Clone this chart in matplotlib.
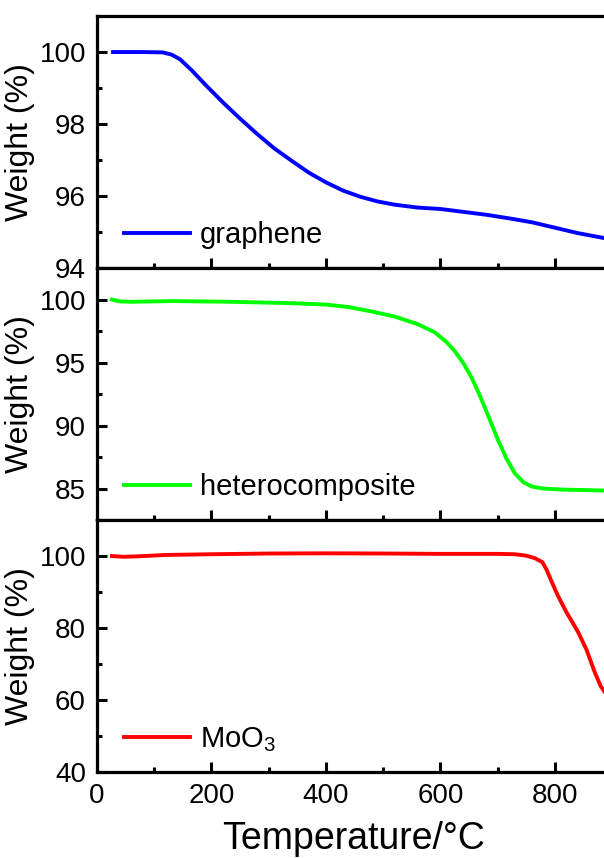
import matplotlib
matplotlib.use('Agg')
import matplotlib.pyplot as plt
from matplotlib.ticker import MultipleLocator

plt.rcParams['font.family'] = ['Liberation Sans', 'DejaVu Sans']
plt.rcParams['mathtext.default'] = 'regular'

# TGA curves (temperature in degC, weight in %)
graphene_t = [28, 80, 115, 130, 145, 165, 190, 220, 250, 280, 310, 340, 370, 400,
              430, 460, 490, 520, 560, 600, 640, 680, 720, 760, 800, 840, 890]
graphene_w = [100.0, 100.0, 99.99, 99.93, 99.8, 99.5, 99.08, 98.6, 98.15, 97.72,
              97.32, 96.98, 96.65, 96.38, 96.15, 95.98, 95.85, 95.76, 95.68, 95.64,
              95.56, 95.48, 95.38, 95.27, 95.12, 94.97, 94.82]

hetero_t = [26, 40, 60, 133, 234, 335, 400, 440, 480, 520, 560, 590, 610, 625, 640,
            655, 670, 685, 700, 715, 730, 745, 760, 780, 810, 850, 890]
hetero_w = [100.0, 99.85, 99.82, 99.88, 99.82, 99.72, 99.6, 99.4, 99.05, 98.65,
            98.05, 97.4, 96.65, 95.9, 94.95, 93.75, 92.25, 90.6, 88.9, 87.4, 86.2,
            85.5, 85.15, 85.0, 84.92, 84.88, 84.84]

moo3_t = [26, 45, 70, 120, 200, 300, 400, 500, 600, 700, 730, 750, 765, 778, 785,
          795, 805, 820, 840, 855, 870, 880, 890]
moo3_w = [100.0, 99.8, 99.9, 100.3, 100.5, 100.7, 100.75, 100.7, 100.6, 100.6,
          100.5, 100.1, 99.4, 98.3, 96.3, 92.6, 89.0, 84.4, 79.0, 74.0, 67.5, 63.8, 61.5]

panels = [
    (graphene_t, graphene_w, '#0000ff', 'graphene', (94, 101), [94, 96, 98, 100], 1),
    (hetero_t, hetero_w, '#00ff00', 'heterocomposite', (82.5, 102.5), [85, 90, 95, 100], 2.5),
    (moo3_t, moo3_w, '#ff0000', 'MoO$_3$', (40, 110), [40, 60, 80, 100], 10),
]

fig = plt.figure(figsize=(6.04, 8.58), dpi=100)

# axes run past the right edge, as in the cropped original
left, width, height = 0.1606, 0.9478, 0.2937
bottoms = [0.6876, 0.3939, 0.1002]

for i, (t, w, color, label, ylim, yticks, yminor) in enumerate(panels):
    ax = fig.add_axes([left, bottoms[i], width, height])
    ax.plot(t, w, color=color, lw=2.8, label=label)
    ax.set_xlim(0, 1000)
    ax.set_ylim(*ylim)
    ax.set_yticks(yticks)
    ax.yaxis.set_minor_locator(MultipleLocator(yminor))
    ax.set_xticks([0, 200, 400, 600, 800])
    ax.xaxis.set_minor_locator(MultipleLocator(100))
    for s in ax.spines.values():
        s.set_linewidth(2.3)
    ax.tick_params(which='both', direction='in', width=2.2, top=False, right=False,
                   labelsize=20, pad=8)
    ax.tick_params(which='major', length=7)
    ax.tick_params(which='minor', length=3.6)
    ax.set_ylabel('Weight (%)', fontsize=23)
    ax.yaxis.set_label_coords(-0.108, 0.5)
    if i < 2:
        ax.tick_params(axis='x', labelbottom=False)
    else:
        ax.set_xlabel('Temperature/\u00b0C', fontsize=27)
        ax.xaxis.set_label_coords(0.449, -0.195)
    ax.legend(loc='center left', bbox_to_anchor=(0.047, 0.13), frameon=False,
              fontsize=21, borderpad=0, borderaxespad=0,
              handlelength=2.26, handletextpad=0.34)

fig.savefig('out.png', dpi=100)
